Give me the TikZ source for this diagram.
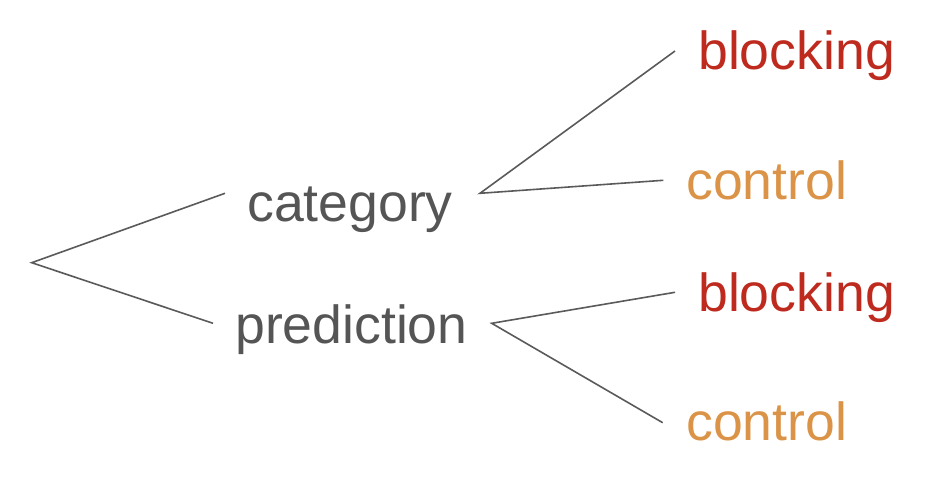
\documentclass[tikz,border=0pt]{standalone}
\usepackage{fontspec}
\setmainfont{Liberation Sans}
\definecolor{textgray}{HTML}{555555}
\definecolor{linegray}{HTML}{5A5A5A}
\definecolor{blockred}{HTML}{BE2A1E}
\definecolor{ctrlorange}{HTML}{DB9447}
\tikzset{
  label/.style={inner sep=0pt, anchor=base west, font=\fontsize{53.6}{60}\selectfont},
  branch/.style={draw=linegray, line width=1.6pt}
}
\begin{document}
\begin{tikzpicture}[x=1pt,y=-1pt]
        \useasboundingbox (0,0) rectangle (928,484);
        % text
        \node [label, textgray] (category) at (247,221.5) {category};
        \node [label, textgray] (prediction) at (235,343) {prediction};
        \node [label, blockred] (blockA) at (698,69.5) {blocking};
        \node [label, ctrlorange] (controlA) at (686,199) {control};
        \node [label, blockred] (blockB) at (698,311) {blocking};
        \node [label, ctrlorange] (controlB) at (686,440) {control};
        % joints
        \coordinate (root) at (31.7,262.7);
        \coordinate (catIn) at (225,193.3);
        \coordinate (predIn) at (213,323.3);
        \coordinate (catOut) at (480,193.3);
        \coordinate (predOut) at (491.7,323.3);
        \coordinate (blockAIn) at (675,51);
        \coordinate (controlAIn) at (663.3,180.3);
        \coordinate (blockBIn) at (675,292.3);
        \coordinate (controlBIn) at (662.7,422.7);
        % branches
        \draw [branch] (catIn) -- (root) -- (predIn);
        \draw [branch] (blockAIn) -- (catOut) -- (controlAIn);
        \draw [branch] (blockBIn) -- (predOut) -- (controlBIn);
\end{tikzpicture}
\end{document}
